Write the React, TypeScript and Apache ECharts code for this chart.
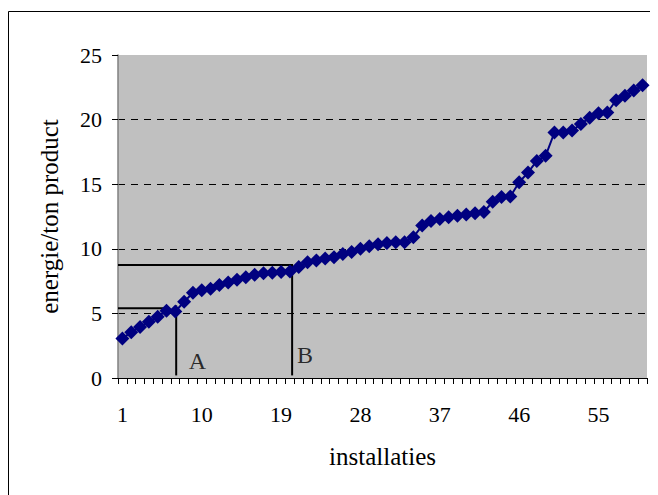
import React, { useEffect, useRef } from "react";
import * as echarts from "echarts";

const categories: string[] = Array.from({ length: 60 }, (_, i) => String(i + 1));
const energyValues: number[] = [
  3.05, 3.55, 3.95, 4.35, 4.75, 5.2, 5.15, 5.9, 6.6, 6.8,
  6.9, 7.2, 7.4, 7.6, 7.8, 8.0, 8.1, 8.15, 8.2, 8.25,
  8.6, 8.95, 9.1, 9.25, 9.35, 9.6, 9.75, 10.0, 10.2, 10.35,
  10.45, 10.5, 10.5, 10.9, 11.8, 12.15, 12.3, 12.45, 12.55, 12.65,
  12.75, 12.85, 13.65, 14.0, 14.05, 15.15, 15.9, 16.8, 17.2, 19.0,
  19.0, 19.15, 19.65, 20.15, 20.5, 20.55, 21.5, 21.85, 22.25, 22.65,
];
const yTicks: number[] = [0, 5, 10, 15, 20, 25];

// reference lines (in data coordinates: x = installation position, y = value)
const lineAHoriz: number[][] = [[0.5, 5.4], [6.1, 5.4]];
const lineAVert: number[][] = [[7.1, 0.2], [7.1, 5.62]];
const lineBHoriz: number[][] = [[0.5, 8.75], [20.35, 8.75]];
const lineBVert: number[][] = [[20.25, 0.2], [20.25, 8.78]];
const annotationNames: string[] = ["A", "B"];
const annotationX: number[] = [9.5, 21.7];
const annotationY: number[] = [1.3, 1.8];

const FONT = "Liberation Serif";

export default function App() {
  const ref = useRef<HTMLDivElement>(null);
  useEffect(() => {
    if (!ref.current) return;
    const chart = echarts.init(ref.current, undefined, { renderer: "svg" });
    const refLine = (data: number[][]) => ({
      type: "line",
      xAxisIndex: 1,
      data,
      symbol: "none",
      lineStyle: { color: "#000", width: 2 },
      z: 1,
      silent: true,
    });
    chart.setOption({
      animation: false,
      textStyle: { fontFamily: FONT },
      grid: {
        left: 110,
        top: 47,
        width: 529,
        height: 323,
        show: true,
        backgroundColor: "#C0C0C0",
        borderWidth: 0,
      },
      graphic: [
        {
          type: "rect",
          shape: { x: 0.5, y: 3.5, width: 648.5, height: 520 },
          style: { fill: "none", stroke: "#000", lineWidth: 1 },
          silent: true,
        },
      ],
      xAxis: [
        {
          type: "category",
          data: categories,
          boundaryGap: true,
          name: "installaties",
          nameLocation: "middle",
          nameGap: 66,
          nameTextStyle: { fontFamily: FONT, fontSize: 25, color: "#000" },
          axisLine: { show: true, lineStyle: { color: "#000", width: 1 } },
          axisTick: { show: true, interval: 0, length: 6, inside: false, lineStyle: { color: "#000" } },
          axisLabel: { interval: 8, margin: 25, fontFamily: FONT, fontSize: 22, color: "#000" },
          splitLine: { show: false },
        },
        {
          type: "value",
          min: 0.5,
          max: 60.5,
          show: false,
        },
      ],
      yAxis: {
        type: "value",
        min: 0,
        max: 25,
        interval: 5,
        name: "energie/ton product",
        nameLocation: "middle",
        nameGap: 56,
        nameTextStyle: { fontFamily: FONT, fontSize: 25, color: "#000" },
        axisLine: { show: true, lineStyle: { color: "#808080", width: 1.5 } },
        axisTick: { show: true, length: 6, lineStyle: { color: "#000" } },
        axisLabel: {
          margin: 16,
          fontFamily: FONT,
          fontSize: 22,
          color: "#000",
          formatter: (v: number) => (yTicks.includes(v) ? String(v) : ""),
        },
        splitLine: {
          show: true,
          showMinLine: false,
          showMaxLine: false,
          lineStyle: { color: "#000", type: [7, 6], width: 1 },
        },
      },
      series: [
        refLine(lineAHoriz),
        refLine(lineAVert),
        refLine(lineBHoriz),
        refLine(lineBVert),
        {
          type: "scatter",
          xAxisIndex: 1,
          symbolSize: 0,
          silent: true,
          data: annotationNames.map((n, i) => ({ name: n, value: [annotationX[i], annotationY[i]] })),
          label: {
            show: true,
            position: "inside",
            formatter: (p: any) => p.name,
            fontFamily: FONT,
            fontSize: 24,
            color: "#000",
          },
          z: 3,
        },
        {
          type: "line",
          xAxisIndex: 0,
          data: energyValues,
          symbol: "diamond",
          symbolSize: 14,
          showAllSymbol: true,
          itemStyle: { color: "#000080", borderWidth: 0 },
          lineStyle: { color: "#000080", width: 2 },
          z: 5,
        },
      ],
    });
    return () => chart.dispose();
  }, []);
  return <div ref={ref} style={{ width: 650, height: 487 }} />;
}
